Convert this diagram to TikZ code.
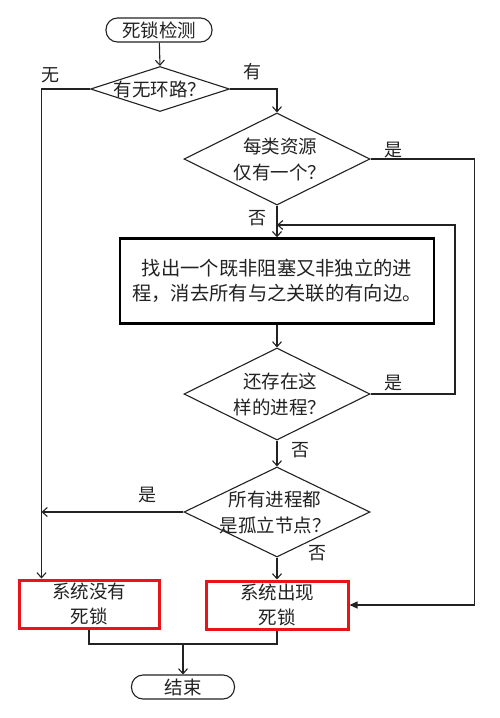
\documentclass[tikz,border=0pt]{standalone}
\usepackage{fontspec}
\setmainfont{Noto Sans CJK SC}
\usetikzlibrary{shapes.geometric,arrows.meta}
\definecolor{lc}{HTML}{222222}
\definecolor{rc}{HTML}{E8141A}
\begin{document}
\begin{tikzpicture}[x=1pt,y=-1pt,
  line/.style={draw=lc,line width=1.1pt},
  arr/.style={line,-{Straight Barb[length=5pt,width=9pt,line width=1.1pt]}},
  farr/.style={line,-{Triangle[length=8pt,width=7pt]}},
  dec/.style={diamond,draw=lc,line width=1.1pt,inner sep=0pt},
  txt/.style={font=\fontsize{18.5}{26}\selectfont,align=center,text=lc,inner sep=0pt},
  lab/.style={font=\fontsize{18}{20}\selectfont,text=lc,inner sep=0pt},
  term/.style={draw=lc,line width=1.1pt,rounded corners=11.5pt,minimum height=24pt,inner sep=0pt,font=\fontsize{18.5}{20}\selectfont,text=lc},
  redbox/.style={draw=rc,line width=3pt,minimum width=140pt,minimum height=48pt,inner sep=0pt,align=center,font=\fontsize{18.5}{25}\selectfont,text=lc}]
\useasboundingbox (0,0) rectangle (500,718);
\fill[white] (0,0) rectangle (500,718);
% nodes
\node[term,minimum width=106pt] (start) at (159,30) {死锁检测};
\node[dec,minimum width=139pt,minimum height=45pt] (d1) at (160,89) {};
\node[txt] (t1) at (d1.center) {有无环路？};
\node[dec,minimum width=186pt,minimum height=92pt] (d2) at (277,159) {};
\node[txt] (t2) at ([xshift=3pt]d2.center) {每类资源\\仅有一个？};
\node[draw=black,line width=2.4pt,minimum width=314pt,minimum height=85pt,inner sep=0pt,align=center,font=\fontsize{19.3}{25}\selectfont,text=lc] (box) at (277,281) {找出一个既非阻塞又非独立的进\\程，消去所有与之关联的有向边。};
\node[dec,minimum width=186pt,minimum height=92pt] (d3) at (277,394) {};
\node[txt] (t3) at ([xshift=3pt]d3.center) {还存在这\\样的进程？};
\node[dec,minimum width=186pt,minimum height=90pt] (d4) at (277,512) {};
\node[txt] (t4) at ([xshift=-2pt]d4.center) {所有进程都\\是孤立节点？};
\node[redbox] (b1) at (89,604) {系统没有\\死锁};
\node[redbox,minimum width=142pt] (b2) at (277,605) {系统出现\\死锁};
\node[term,minimum width=103pt] (end) at (183,687) {结束};
% labels
\node[lab] (lwu) at (50,75) {无};
\node[lab] (lyou) at (252,72) {有};
\node[lab] (lshi1) at (393,150) {是};
\node[lab] (lfou1) at (257,218) {否};
\node[lab] (lshi2) at (393,383) {是};
\node[lab] (lfou2) at (300,450) {否};
\node[lab] (lshi3) at (147,495) {是};
\node[lab] (lfou3) at (317,553) {否};
% coordinates
\coordinate (leftin) at ([xshift=24pt]b1.north west);
\coordinate (leftj) at (d4.west -| leftin);
\coordinate (rcorner) at ([xshift=125pt]b2.east);
\coordinate (loop) at (455,225);
\coordinate (join) at (box.north |- loop);
\coordinate (bot) at (89,644);
\coordinate (endin) at (end.north |- bot);
% connectors
\draw[arr] (start) -- (d1.north);
\draw[arr] (d1.west) -| (leftin);
\draw[arr] (d1.east) -| (d2.north);
\draw[farr] (d2.east) -| (rcorner) -- (b2.east);
\draw[arr] (d2.south) -- (box.north);
\draw[arr] (d3.east) -| (loop) -- (join);
\draw[arr] (box.south) -- (d3.north);
\draw[arr] (d3.south) -- (d4.north);
\draw[arr] (d4.west) -- (leftj);
\draw[arr] (d4.south) -- (b2.north);
\draw[line] (b1.south) |- (bot) -| (b2.south);
\draw[arr] (endin) -- (end.north);
\end{tikzpicture}
\end{document}
